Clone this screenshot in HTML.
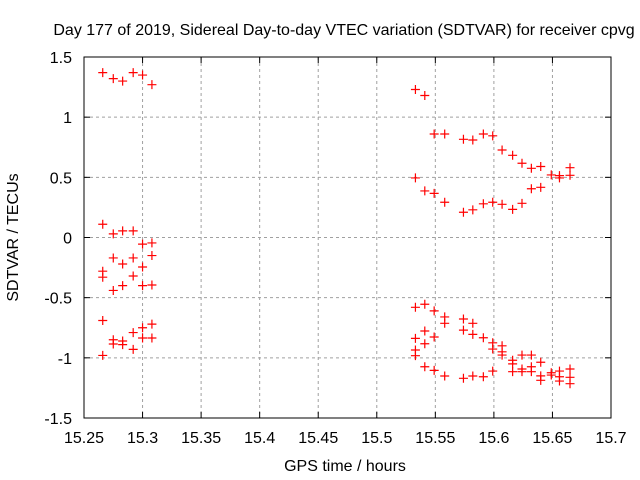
<!DOCTYPE html>
<html><head><meta charset="utf-8"><style>
body{margin:0;background:#fff;}
svg{display:block;font-family:"Liberation Sans",sans-serif;}
</style></head><body>
<svg id="chart" width="640" height="480">
<text x="344" y="35" font-size="16" text-anchor="middle">Day 177 of 2019, Sidereal Day-to-day VTEC variation (SDTVAR) for receiver cpvg</text>
<text transform="translate(18,237.5) rotate(-90)" font-size="16" text-anchor="middle">SDTVAR / TECUs</text>
<text x="345" y="471" font-size="16" text-anchor="middle">GPS time / hours</text>
<g id="grid"></g><g id="ticks"></g><g id="marks"></g>
<rect x="84" y="57" width="527" height="361" fill="none" stroke="#000" stroke-width="1"/>
</svg>
<script>
const xTicks=[15.25,15.3,15.35,15.4,15.45,15.5,15.55,15.6,15.65,15.7];
const xTickLabels=["15.25","15.3","15.35","15.4","15.45","15.5","15.55","15.6","15.65","15.7"];
const yTicks=[-1.5,-1,-0.5,0,0.5,1,1.5];
const yTickLabels=["-1.5","-1","-0.5","0","0.5","1","1.5"];
const times=[15.266,15.266,15.266,15.266,15.266,15.266,15.275,15.275,15.275,15.275,15.275,15.275,15.283,15.283,15.283,15.283,15.283,15.283,15.292,15.292,15.292,15.292,15.292,15.292,15.3,15.3,15.3,15.3,15.3,15.3,15.308,15.308,15.308,15.308,15.308,15.308,
15.533,15.541,15.549,15.558,15.574,15.582,15.591,15.599,15.607,15.616,15.624,15.632,15.64,15.649,15.656,15.656,15.665,15.665,
15.533,15.541,15.549,15.558,15.574,15.582,15.591,15.599,15.607,15.616,15.624,15.632,15.64,
15.533,15.541,15.549,15.558,15.558,15.574,15.582,15.574,15.582,15.591,15.599,15.599,15.607,15.607,15.607,15.616,15.616,15.616,15.624,15.624,15.624,15.632,15.632,15.632,15.64,15.64,15.64,15.649,15.649,15.656,15.656,15.656,15.665,15.665,15.665,
15.533,15.533,15.533,15.541,15.541,15.549,15.541,15.549,15.558,15.574,15.582,15.591,15.599];
const values=[1.37,0.11,-0.28,-0.33,-0.69,-0.98,1.32,0.03,-0.17,-0.44,-0.85,-0.885,1.30,0.055,-0.22,-0.40,-0.86,-0.89,1.37,0.055,-0.17,-0.32,-0.79,-0.93,1.35,-0.055,-0.245,-0.40,-0.75,-0.835,1.27,-0.045,-0.15,-0.395,-0.72,-0.835,
1.23,1.18,0.86,0.86,0.816,0.81,0.86,0.845,0.727,0.683,0.617,0.575,0.59,0.52,0.514,0.495,0.58,0.517,
0.495,0.387,0.367,0.293,0.21,0.23,0.28,0.293,0.276,0.234,0.284,0.405,0.417,
-0.58,-0.555,-0.61,-0.66,-0.713,-0.677,-0.713,-0.77,-0.805,-0.833,-0.875,-0.927,-0.9,-0.95,-0.977,-1.02,-1.05,-1.115,-0.977,-1.093,-1.115,-0.977,-1.074,-1.115,-1.037,-1.15,-1.187,-1.124,-1.143,-1.11,-1.157,-1.193,-1.093,-1.162,-1.215,
-0.838,-0.935,-0.982,-0.777,-0.883,-0.827,-1.074,-1.104,-1.151,-1.17,-1.151,-1.157,-1.11];
const NS="http://www.w3.org/2000/svg";
const X0=84,X1=611,Y0=418,Y1=57;
function sx(v){return X0+(v-15.25)/(15.7-15.25)*(X1-X0);}
function sy(v){return Y0-(v+1.5)/3*(Y0-Y1);}
function mk(tag,attrs,parent){const e=document.createElementNS(NS,tag);for(const k in attrs)e.setAttribute(k,attrs[k]);parent.appendChild(e);return e;}
const grid=document.getElementById('grid'),ticks=document.getElementById('ticks'),marks=document.getElementById('marks');
xTicks.forEach((t,i)=>{const x=sx(t);
 if(i>0&&i<xTicks.length-1){const g=mk('line',{x1:x,x2:x,y1:Y1,y2:Y0,stroke:'#a0a0a0','stroke-dasharray':'3,3'},grid);
 
 }
 mk('line',{x1:x,x2:x,y1:Y0,y2:Y0-6,stroke:'#000'},ticks);
 mk('line',{x1:x,x2:x,y1:Y1,y2:Y1+6,stroke:'#000'},ticks);
 const l=mk('text',{x:x,y:443,'font-size':16,'text-anchor':'middle'},ticks);l.textContent=xTickLabels[i];
 
 });
yTicks.forEach((t,i)=>{const y=sy(t);
 if(i>0&&i<yTicks.length-1){const g=mk('line',{x1:X0,x2:X1,y1:y,y2:y,stroke:'#a0a0a0','stroke-dasharray':'3,3'},grid);
 
 }
 mk('line',{x1:X0,x2:X0+6,y1:y,y2:y,stroke:'#000'},ticks);
 mk('line',{x1:X1,x2:X1-6,y1:y,y2:y,stroke:'#000'},ticks);
 const l=mk('text',{x:72,y:y+6,'font-size':16,'text-anchor':'end'},ticks);l.textContent=yTickLabels[i];
 
 });
times.forEach((t,i)=>{const x=sx(t),y=sy(values[i]);
 const p=mk('path',{d:`M${x-4.5},${y}H${x+4.5}M${x},${y-4.5}V${y+4.5}`,stroke:'#ff0000','stroke-width':1.2,fill:'none'},marks);
 
 });
</script>
</body></html>
